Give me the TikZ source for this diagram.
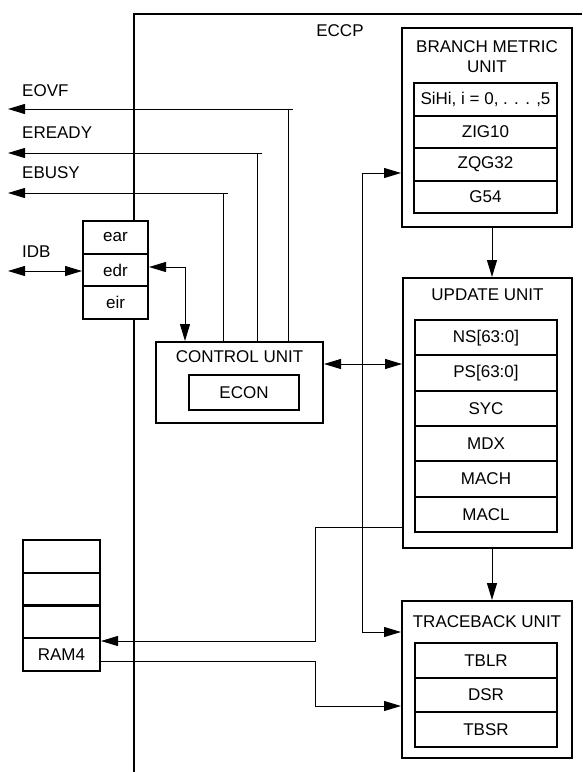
\documentclass[tikz,border=0pt]{standalone}
\usepackage{fontspec}
\setmainfont{Liberation Sans}
\usetikzlibrary{arrows.meta}
\tikzset{
	box_unit/.style = {
		rectangle,
		draw=black,
		fill=white,
		line width=2pt,
		inner sep=0pt
	},
	box_row/.style = {
		box_unit,
		minimum width=142pt,
		minimum height=#1
	},
	box_reg/.style = {
		box_unit,
		minimum width=65pt,
		minimum height=32.7pt
	},
	box_ram/.style = {
		box_unit,
		minimum width=77pt,
		minimum height=32.75pt
	},
	box_title/.style = {
		align=center,
		inner sep=0pt
	},
	sig_label/.style = {
		inner sep=0pt,
		anchor=west
	},
	sig/.style = {
		line width=1pt
	},
}

\begin{document}
\begin{tikzpicture}[x=1pt, y=-1pt, >={Triangle[length=17pt,width=10pt]}, font=\fontsize{17}{20}\selectfont]
\useasboundingbox (0,0) rectangle (582,772);
\draw[line width=2.5pt] (134,772) -- (134,14) -- (582,14);
\node [box_title] (eccp) at (340,31) {ECCP};

\node [box_unit, minimum width=170pt, minimum height=199pt] (bmu) at (487,127.5) {};
\node [box_title] (bmu_t) at (487,57) {BRANCH METRIC\\UNIT};
\node [box_row=32.5pt, minimum width=143pt] (sihi) at (485.5,99.5) {SiHi, i = 0, . . . ,5};
\node [box_row=32.5pt, minimum width=143pt] (zig) at (485.5,132) {ZIG10};
\node [box_row=32.5pt, minimum width=143pt] (zqg) at (485.5,164.5) {ZQG32};
\node [box_row=32.5pt, minimum width=143pt] (g54) at (485.5,197) {G54};

\node [box_unit, minimum width=169pt, minimum height=270pt] (upd) at (487.5,413) {};
\node [box_title] (upd_t) at (487.5,295) {UPDATE UNIT};
\node [box_row=35.3pt] (ns) at (486,337.7) {NS[63:0]};
\node [box_row=35.3pt] (ps) at (486,373) {PS[63:0]};
\node [box_row=35.3pt] (syc) at (486,408.3) {SYC};
\node [box_row=35.3pt] (mdx) at (486,443.7) {MDX};
\node [box_row=35.3pt] (mach) at (486,479) {MACH};
\node [box_row=35.3pt] (macl) at (486,514.3) {MACL};

\node [box_unit, minimum width=170pt, minimum height=157pt] (tb) at (487,679.5) {};
\node [box_title] (tb_t) at (487,622) {TRACEBACK UNIT};
\node [box_row=34.7pt] (tblr) at (486,660.3) {TBLR};
\node [box_row=34.7pt] (dsr) at (486,695) {DSR};
\node [box_row=34.7pt] (tbsr) at (486,729.7) {TBSR};

\node [box_unit, minimum width=167pt, minimum height=81pt] (ctrl) at (239.5,382.5) {};
\node [box_title] (ctrl_t) at (239.5,357) {CONTROL UNIT};
\node [box_unit, minimum width=110pt, minimum height=35pt] (econ) at (244,392.5) {ECON};

\node [box_reg] (ear) at (115.5,237.3) {ear};
\node [box_reg] (edr) at (115.5,270) {edr};
\node [box_reg] (eir) at (115.5,302.7) {eir};

\node [box_ram] (ram1) at (61.5,556.4) {};
\node [box_ram] (ram2) at (61.5,589.1) {};
\node [box_ram] (ram3) at (61.5,621.9) {};
\node [box_ram] (ram4) at (61.5,654.6) {RAM4};

\node [sig_label] (eovf_l) at (22,91) {EOVF};
\node [sig_label] (eready_l) at (22,133) {EREADY};
\node [sig_label] (ebusy_l) at (22,173) {EBUSY};
\node [sig_label] (idb_l) at (22,252) {IDB};

\coordinate (eovf) at (8,109);
\coordinate (eready) at (8,153);
\coordinate (ebusy) at (8,193);
\coordinate (idb) at (8,271);
\coordinate (bus) at (362,364);

\draw[sig] (ctrl.north -| 288,0) -- (288,109);
\draw[sig,->] (293,109) -- (eovf);
\draw[sig] (ctrl.north -| 257,0) -- (257,153);
\draw[sig,->] (262,153) -- (eready);
\draw[sig] (ctrl.north -| 223,0) -- (223,193);
\draw[sig,->] (228,193) -- (ebusy);

\draw[sig,<->] (idb) -- (edr.west |- 0,271);
\draw[sig,<->] (edr.east |- 0,267) -| (ctrl.north -| 185,0);
\draw[sig,<->] (ctrl.east |- 0,364) -- (upd.west |- 0,364);
\draw[sig,->] (bus) |- (bmu.west |- 0,173);
\draw[sig,->] (bus) |- (tb.west |- 0,632);
\draw[sig,->] (bmu.south -| 492,0) -- (upd.north -| 492,0);
\draw[sig,->] (upd.south -| 492,0) -- (tb.north -| 492,0);
\draw[sig,->] (upd.west |- 0,527) -| (315,641) -- (ram4.east |- 0,641);
\draw[sig,->] (ram4.east |- 0,661) -| (315,706) -- (tb.west |- 0,706);
\end{tikzpicture}
\end{document}
